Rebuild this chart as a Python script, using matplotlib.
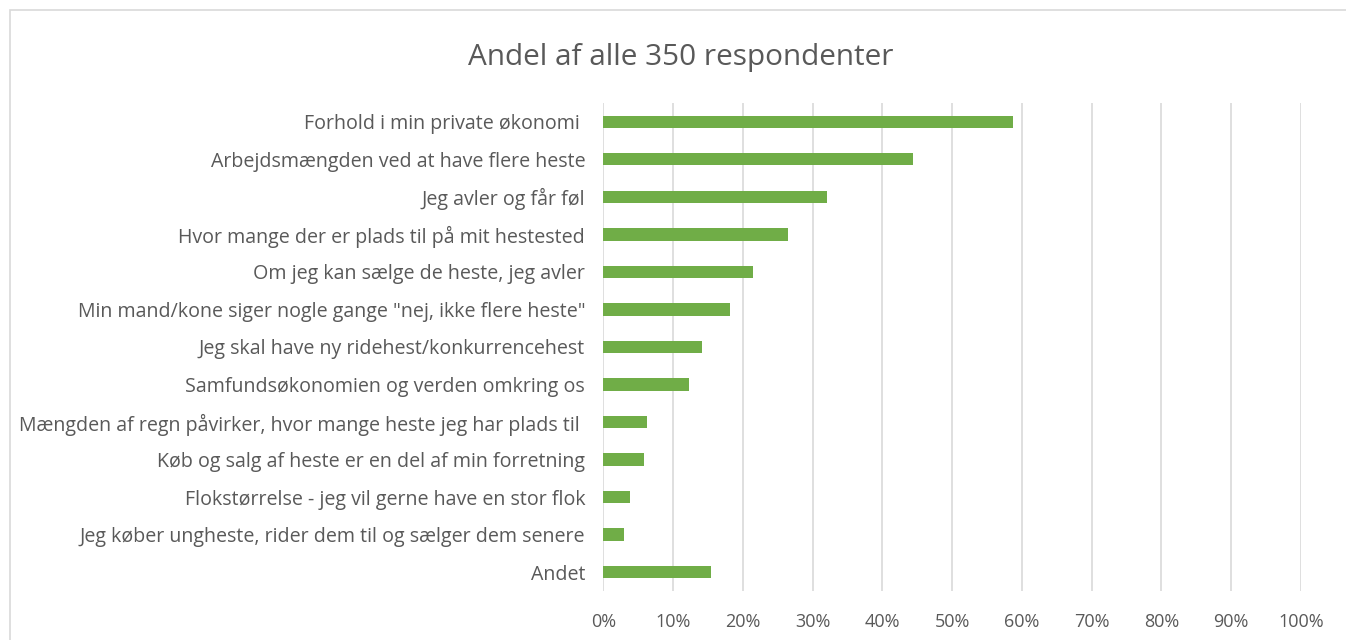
import numpy as np
import matplotlib.pyplot as plt
from matplotlib.patches import Rectangle
from matplotlib.ticker import PercentFormatter

plt.rcParams['font.family'] = ['Open Sans', 'DejaVu Sans']

categories = [
    "Forhold i min private økonomi ",
    "Arbejdsmængden ved at have flere heste",
    "Jeg avler og får føl",
    "Hvor mange der er plads til på mit hestested",
    "Om jeg kan sælge de heste, jeg avler",
    "Min mand/kone siger nogle gange \"nej, ikke flere heste\"",
    "Jeg skal have ny ridehest/konkurrencehest",
    "Samfundsøkonomien og verden omkring os",
    "Mængden af regn påvirker, hvor mange heste jeg har plads til ",
    "Køb og salg af heste er en del af min forretning",
    "Flokstørrelse - jeg vil gerne have en stor flok",
    "Jeg køber ungheste, rider dem til og sælger dem senere",
    "Andet",
]
shares = [0.588, 0.444, 0.320, 0.265, 0.214, 0.181, 0.141, 0.123, 0.063, 0.059, 0.039, 0.029, 0.154]
xticks = np.arange(0, 1.01, 0.1)

text_col = "#595959"

fig = plt.figure(figsize=(13.46, 6.4), dpi=100)
ax = fig.add_axes([0.4482, 0.0766, 0.5183, 0.7625])

# chart border like the Excel chart area
fig.patches.append(Rectangle((10 / 1346, -0.1), 1.2, (630 + 64) / 640, transform=fig.transFigure,
                             fill=False, edgecolor="#d9d9d9", linewidth=1.2))

y = np.arange(len(categories))
ax.barh(y, shares, height=0.33, color="#70ad47", zorder=3)

ax.set_ylim(len(categories) - 0.5, -0.5)
ax.set_xlim(0, 1)
ax.set_yticks(y)
ax.set_yticklabels(categories, fontsize=14.1, color=text_col)
ax.set_xticks(xticks)
ax.xaxis.set_major_formatter(PercentFormatter(1.0, decimals=0))
ax.tick_params(axis="x", labelsize=13, labelcolor=text_col, length=0, pad=16)
ax.tick_params(axis="y", length=0, pad=13)
ax.grid(axis="x", color="#d9d9d9", linewidth=1.2, zorder=0)
for s in ax.spines.values():
    s.set_visible(False)

fig.text(0.506, 0.91, "Andel af alle 350 respondenter", ha="center", va="center",
         fontsize=21.4, color=text_col)

fig.savefig("out.png", dpi=100)
